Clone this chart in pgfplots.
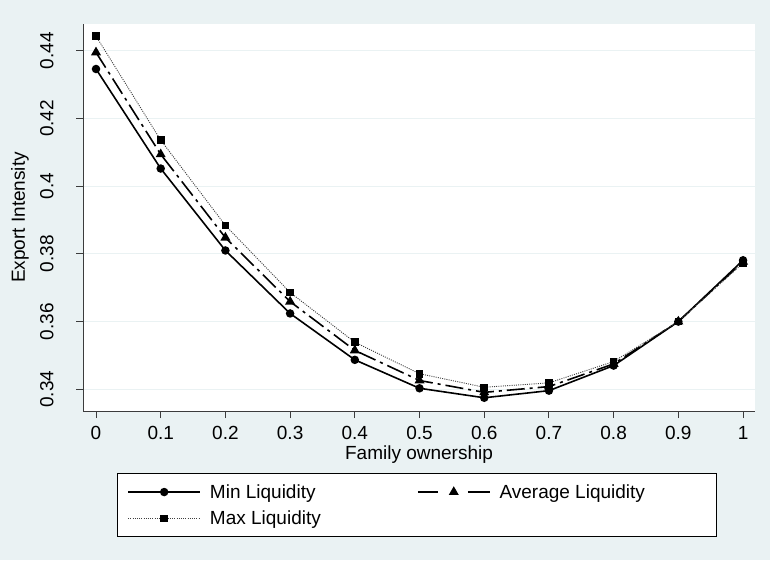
\documentclass[border=0pt]{standalone}
\usepackage{fontspec}
\setmainfont{Liberation Sans}
\usepackage{pgfplots}
\pgfplotsset{compat=1.18}
\definecolor{bgblue}{RGB}{234,242,243}
\definecolor{axgray}{RGB}{60,60,60}
\newcommand{\f}{\fontsize{19}{22}\selectfont}
\pgfplotsset{avgleg/.style={legend image code/.code={%
  \draw[black, line width=1.6pt, dash pattern=on 20pt off 30pt on 22pt] (0pt,0pt) -- (72pt,0pt);
  \draw[black, fill=black, solid] plot[mark=triangle*, mark size=4.2pt] coordinates {(36pt,0pt)};}}}
\begin{document}
\begin{tikzpicture}[x=1pt,y=1pt]
\fill[bgblue] (0,0) rectangle (770,560);
\begin{axis}[
  at={(83pt,149pt)}, anchor=south west,
  scale only axis, width=672pt, height=387pt,
  xmin=-0.0201, xmax=1.0185,
  ymin=0.33359, ymax=0.44789,
  axis background/.style={fill=white},
  axis lines*=left,
  axis line style={axgray, line width=1pt, -},
  tick align=outside,
  major tick length=7pt,
  tick style={axgray, line width=1pt},
  xtick={0,0.1,0.2,0.3,0.4,0.5,0.6,0.7,0.8,0.9,1},
  ytick={0.34,0.36,0.38,0.40,0.42,0.44},
  ymajorgrids,
  major grid style={bgblue, line width=1.2pt},
  /pgf/number format/assume math mode=true,
  /pgf/number format/.cd, fixed, precision=2, /pgfplots/.cd,
  tick label style={font=\f},
  yticklabel style={xshift=-19pt, rotate=90, anchor=south},
  xticklabel style={yshift=-5pt},
  xlabel={Family ownership},
  ylabel={Export Intensity},
  label style={font=\f},
  xlabel style={at={(axis description cs:0.5,-0.113)}, anchor=center},
  ylabel style={at={(axis description cs:-0.0938,0.5)}, anchor=center},
  legend columns=2,
  legend cell align=left,
  legend style={at={(0.051,-0.161)}, anchor=north west, draw=black, line width=0.8pt,
    fill=white, font=\f, inner xsep=9.7pt, inner ysep=8.7pt,
    /tikz/every odd column/.append style={column sep=7pt},
    row sep=7pt},
  legend image code/.code={\draw[mark repeat=2,mark phase=2,#1] plot coordinates {(0pt,0pt) (36pt,0pt) (72pt,0pt)};},
]
\addplot[black, line width=1.6pt, mark=*, mark size=3.4pt, mark options={solid, fill=black}]
coordinates {(0,0.4346) (0.1,0.4052) (0.2,0.3810) (0.3,0.3624) (0.4,0.3487) (0.5,0.3403) (0.6,0.3375) (0.7,0.3396) (0.8,0.3470) (0.9,0.3600) (1,0.3781)};
\addlegendentry{\makebox[205pt][l]{Min Liquidity}}
\addplot[black, line width=1.6pt, dash pattern=on 18pt off 5pt on 3pt off 5pt, mark=triangle*, mark size=4.2pt, mark options={solid, fill=black}, avgleg]
coordinates {(0,0.4395) (0.1,0.4094) (0.2,0.3848) (0.3,0.3659) (0.4,0.3515) (0.5,0.3426) (0.6,0.3391) (0.7,0.3408) (0.8,0.3475) (0.9,0.3600) (1,0.3777)};
\addlegendentry{\makebox[205pt][l]{Average Liquidity}}
\addplot[black!75, line width=0.9pt, dash pattern=on 1pt off 1.2pt, mark=square*, mark size=3.3pt, mark options={solid, fill=black, draw=black}]
coordinates {(0,0.4443) (0.1,0.4136) (0.2,0.3884) (0.3,0.3686) (0.4,0.3539) (0.5,0.3446) (0.6,0.3406) (0.7,0.3419) (0.8,0.3482) (0.9,0.3600) (1,0.3773)};
\addlegendentry{Max Liquidity}
\end{axis}
\pgfresetboundingbox
\path (0,0) rectangle (770,560);
\end{tikzpicture}
\end{document}
